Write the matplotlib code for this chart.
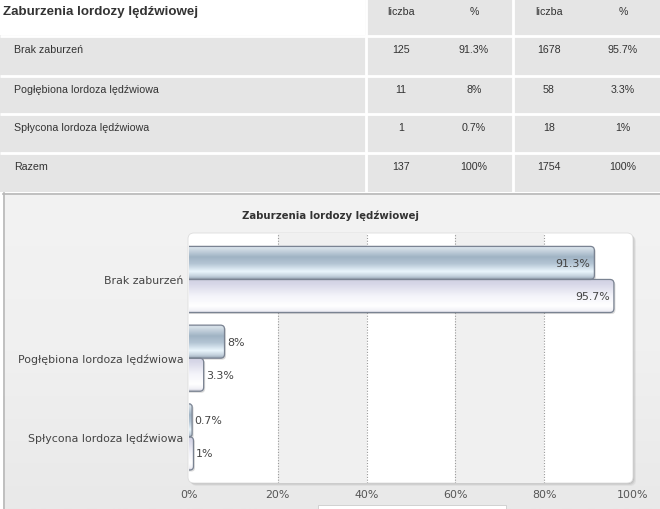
import numpy as np
import matplotlib
matplotlib.use("Agg")
import matplotlib.pyplot as plt
from matplotlib.patches import Rectangle, FancyBboxPatch
from matplotlib.colors import LinearSegmentedColormap

# ---------------- data ----------------
title = "Zaburzenia lordozy lędźwiowej"
categories = ["Brak zaburzeń", "Pogłębiona lordoza lędźwiowa", "Spłycona lordoza lędźwiowa"]
table_rows = ["Brak zaburzeń", "Pogłębiona lordoza lędźwiowa", "Spłycona lordoza lędźwiowa", "Razem"]
header = ["liczba", "%", "liczba", "%"]
count_a = ["125", "11", "1", "137"]
pct_a = ["91.3%", "8%", "0.7%", "100%"]
count_b = ["1678", "58", "18", "1754"]
pct_b = ["95.7%", "3.3%", "1%", "100%"]
series_a = [91.3, 8, 0.7]
series_b = [95.7, 3.3, 1]
xticks = [0, 20, 40, 60, 80, 100]
xtick_labels = ["0%", "20%", "40%", "60%", "80%", "100%"]

W, H = 660, 510
fig = plt.figure(figsize=(W / 100, H / 100), dpi=100)
fig.patch.set_facecolor("white")

# background / table axes in pixel coordinates
bg = fig.add_axes([0, 0, 1, 1], zorder=0)
bg.set_xlim(0, W)
bg.set_ylim(H, 0)
bg.axis("off")

# ---- table ----
cell_gray = "#e5e5e5"
row_edges = [0, 37, 77, 115, 154, 193]
col_x = [0, 366, 513, 660]
bg.add_patch(Rectangle((0, 0), W, 193, facecolor=cell_gray, edgecolor="none"))
bg.add_patch(Rectangle((0, 0), 365, 36, facecolor="white", edgecolor="none"))
for y in row_edges[1:-1]:
    bg.plot([0, W], [y, y], color="white", lw=2, solid_capstyle="butt")
for x in col_x[1:-1]:
    bg.plot([x, x], [0, 193], color="white", lw=2, solid_capstyle="butt")

tfont = dict(family=["Liberation Sans", "DejaVu Sans"], color="#333333")
bg.text(3, 12, title, fontsize=9.6, fontweight="bold", ha="left", va="center", **tfont)
col_centers = [401, 474, 549, 623]
for cx, h in zip(col_centers, header):
    bg.text(cx, 12, h, fontsize=7.7, ha="center", va="center", **tfont)
for i, lab in enumerate(table_rows):
    ty = row_edges[i + 1] + 13
    bg.text(14, ty, lab, fontsize=7.7, ha="left", va="center", **tfont)
    for cx, v in zip(col_centers, [count_a[i], pct_a[i], count_b[i], pct_b[i]]):
        bg.text(cx, ty, v, fontsize=7.7, ha="center", va="center", **tfont)

# ---- chart panel ----
grad = np.linspace(0, 1, 256).reshape(-1, 1)
panel_cmap = LinearSegmentedColormap.from_list("p", ["#f3f3f3", "#f0f0f0", "#e9e9e9"])
bg.imshow(grad, extent=[3, W, H, 194], cmap=panel_cmap, aspect="auto", zorder=1)
bg.plot([3, W], [194.5, 194.5], color="#b8b8b8", lw=1.2, zorder=2)
bg.plot([3.5, 3.5], [194, H], color="#b8b8b8", lw=1.2, zorder=2)
bg.set_xlim(0, W)
bg.set_ylim(H, 0)

# plot area box with shadow
px0, px1, py0, py1 = 189, 633, 234, 484
for off, a in [(3, 0.10), (2, 0.15), (1, 0.2)]:
    bg.add_patch(FancyBboxPatch((px0 - 1 + off, py0 + off), px1 - px0 + 1, py1 - py0,
                                boxstyle="round,pad=0,rounding_size=6",
                                facecolor="#808080", edgecolor="none", alpha=a, zorder=3))
bg.add_patch(FancyBboxPatch((px0 - 1, py0), px1 - px0 + 1, py1 - py0,
                            boxstyle="round,pad=0,rounding_size=6",
                            facecolor="white", edgecolor="#dddddd", lw=0.6, zorder=4))
# cut-off legend box at the bottom
bg.add_patch(Rectangle((318, 506), 188, 10, facecolor="white", edgecolor="#cccccc", lw=0.6, zorder=4))

bg.text(330, 216, title, fontsize=7.3, fontweight="bold", ha="center", va="center",
        color="#333333", family="DejaVu Sans", zorder=5)

# ---- bar chart ----
ax = fig.add_axes([px0 / W, 1 - py1 / H, (px1 - px0) / W, (py1 - py0) / H], zorder=2)
ax.patch.set_alpha(0)
for s in ax.spines.values():
    s.set_visible(False)

ymin, ymax = -0.59, 2.585
xlo, xhi = 0, 100
ax.axvspan(20, 40, color="#f0f0f0", zorder=0.5, lw=0)
ax.axvspan(60, 80, color="#f0f0f0", zorder=0.5, lw=0)
for gx in [20, 40, 60, 80]:
    ax.axvline(gx, color="#999999", lw=0.8, ls=(0, (1, 1.5)), zorder=0.6)

ypos = np.arange(len(categories))
bh = 0.42
bars_a = ax.barh(ypos - bh / 2, series_a, height=bh, color="none", edgecolor="none")
bars_b = ax.barh(ypos + bh / 2, series_b, height=bh, color="none", edgecolor="none")

cmap_a = LinearSegmentedColormap.from_list("a", [
    (0.0, "#c0ccd8"), (0.08, "#d8e2ea"), (0.35, "#a0b3c4"), (0.55, "#b4c5d4"),
    (0.78, "#eaf6fd"), (0.92, "#c2d0dc"), (1.0, "#96a4b2")])
cmap_b = LinearSegmentedColormap.from_list("b", [
    (0.0, "#d0d0e2"), (0.15, "#d8d8e8"), (0.5, "#f4f4fa"), (0.8, "#ffffff"),
    (0.94, "#f0f0f6"), (1.0, "#c8c8d4")])

xpp = (xhi - xlo) / (px1 - px0)          # data x per pixel
ypp = (ymax - ymin) / (py1 - py0)        # data y per pixel
aspect = ypp / xpp

def draw_bar(rect, cmap):
    x0 = rect.get_x()
    w = rect.get_width()
    y0 = rect.get_y()
    h = rect.get_height()
    start = -2.0
    width = w - start
    r = min(4 * xpp, w / 2 + 0.3) if w > 0 else 0
    # shadow
    sh = FancyBboxPatch((start + 1.5 * xpp, y0 + 1.5 * ypp), width, h,
                        boxstyle=f"round,pad=0,rounding_size={r}", mutation_aspect=aspect,
                        facecolor="#9a9a9a", edgecolor="none", alpha=0.35, zorder=1.5)
    ax.add_patch(sh)
    body = FancyBboxPatch((start, y0), width, h,
                          boxstyle=f"round,pad=0,rounding_size={r}", mutation_aspect=aspect,
                          facecolor="none", edgecolor="#7a8392", lw=0.9, zorder=3)
    ax.add_patch(body)
    clip = FancyBboxPatch((start, y0), width, h,
                          boxstyle=f"round,pad=0,rounding_size={r}", mutation_aspect=aspect,
                          facecolor="none", edgecolor="none", transform=ax.transData)
    ax.add_patch(clip)
    im = ax.imshow(grad, extent=[x0, x0 + w, y0 + h, y0], cmap=cmap, aspect="auto",
                   interpolation="bilinear", zorder=2)
    im.set_clip_path(clip)

def label_bar(rect, val):
    w = rect.get_width()
    yc = rect.get_y() + rect.get_height() / 2
    txt = f"{val:g}%"
    if w > 20:
        ax.text(w - 4 * xpp, yc, txt, ha="right", va="center", fontsize=7.9,
                color="#444444", zorder=4)
    else:
        ax.text(w + 2.5 * xpp, yc, txt, ha="left", va="center", fontsize=7.9,
                color="#444444", zorder=4)

for rect, v in zip(bars_a, series_a):
    draw_bar(rect, cmap_a)
    label_bar(rect, v)
for rect, v in zip(bars_b, series_b):
    draw_bar(rect, cmap_b)
    label_bar(rect, v)

ax.set_xlim(xlo, xhi)
ax.set_ylim(ymax, ymin)
ax.set_xticks(xticks)
ax.set_xticklabels(xtick_labels)
ax.set_yticks(ypos)
ax.set_yticklabels(categories)
ax.tick_params(axis="both", length=0, labelsize=7.9, colors="#555555")
ax.tick_params(axis="x", pad=4)
ax.tick_params(axis="y", pad=4)
for t in ax.get_yticklabels():
    t.set_color("#444444")

fig.savefig("out.png", dpi=100)
